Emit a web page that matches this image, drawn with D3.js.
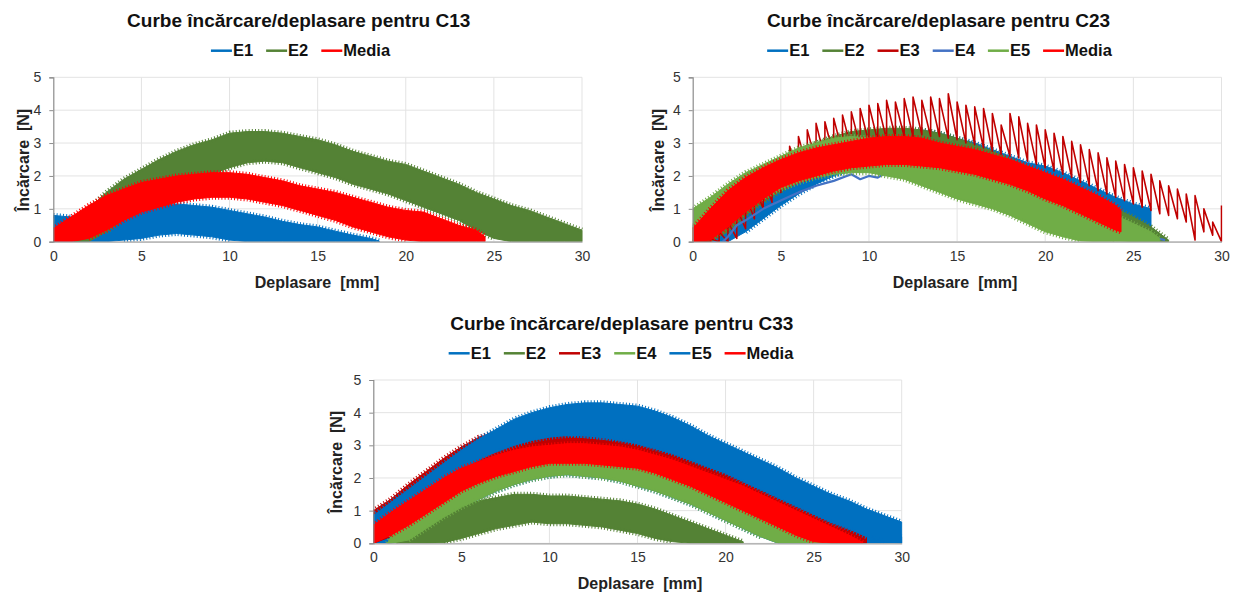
<!DOCTYPE html>
<html><head><meta charset="utf-8">
<script src="https://cdn.jsdelivr.net/npm/d3@7/dist/d3.min.js"></script>
<style>
body{margin:0;background:#fff}
svg{display:block}
text{font-family:"Liberation Sans",Arial,Helvetica,sans-serif}
</style>
</head><body>
<svg id="chart" width="1236" height="594"></svg>
<script>
// ---------------- shared labels / ticks ----------------
const X_TICKS = [0, 5, 10, 15, 20, 25, 30];
const Y_TICKS = [0, 1, 2, 3, 4, 5];
const X_LABEL = "Deplasare\u00a0 [mm]";
const Y_LABEL = "Încărcare\u00a0 [N]";
const TITLES = ["Curbe încărcare/deplasare pentru C13", "Curbe încărcare/deplasare pentru C23", "Curbe încărcare/deplasare pentru C33"];

// ---------------- C13 (band envelopes: upper / lower) ----------------
const c13_e1_x  = [0,1,2,3,4,5,6,7,8,9,10,11,12,13,14,15,16,17,18,18.5];
const c13_e1_hi = [0.8,0.75,0.72,0.8,0.9,1.0,1.1,1.15,1.1,1.05,0.95,0.85,0.75,0.62,0.52,0.45,0.32,0.2,0.1,0.02];
const c13_e1_lo = [0,0,0,0,0.05,0.1,0.2,0.25,0.2,0.15,0.05,0,0,0,0,0,0,0,0,0];

const c13_e2_x  = [1.2,2,3,4,5,6,7,8,9,10,11,12,13,14,15,16,17,18,19,20,21,22,23,24,25,26,27,28,29,30];
const c13_e2_hi = [0.3,1.0,1.5,1.9,2.2,2.5,2.75,2.95,3.1,3.3,3.35,3.35,3.3,3.2,3.1,2.95,2.75,2.6,2.45,2.35,2.15,1.95,1.75,1.5,1.3,1.1,0.95,0.75,0.55,0.35];
const c13_e2_lo = [0,0,0.3,0.7,1.0,1.3,1.6,1.85,2.05,2.25,2.4,2.45,2.4,2.25,2.1,1.95,1.75,1.6,1.45,1.25,1.05,0.85,0.65,0.35,0.1,0,0,0,0,0];

const c13_med_x  = [0,1,2,3,4,5,6,7,8,9,10,11,12,13,14,15,16,17,18,19,20,21,22,23,24,24.5];
const c13_med_hi = [0.4,0.75,1.1,1.4,1.6,1.8,1.9,2.0,2.05,2.1,2.1,2.05,1.95,1.85,1.7,1.6,1.5,1.35,1.2,1.05,0.95,0.9,0.7,0.5,0.35,0.15];
const c13_med_lo = [0,0,0.1,0.35,0.65,0.9,1.05,1.2,1.3,1.35,1.35,1.3,1.2,1.1,0.95,0.8,0.65,0.45,0.3,0.15,0.05,0,0,0,0,0];

// ---------------- C23 ----------------
const c23_e1_x  = [0,1,2,3,4,5,6,7,8,9,10,11,12,13,14,15,16,17,18,19,20,21,22,23,24,25,26];
const c23_e1_hi = [0,0.3,0.7,1.1,1.5,1.9,2.25,2.55,2.8,3.0,3.15,3.25,3.35,3.4,3.3,3.15,3.0,2.8,2.6,2.4,2.3,2.1,1.85,1.6,1.35,1.15,1.0];
const c23_e1_lo = [0,0,0,0.3,0.7,1.1,1.45,1.75,2.0,2.2,2.35,2.45,2.5,2.5,2.45,2.35,2.2,2.0,1.8,1.6,1.4,1.2,1.0,0.8,0.6,0.45,0.3];

const c23_e2_x  = [0,1,2,3,4,5,6,7,8,9,10,11,12,13,14,15,16,17,18,19,20,21,22,23,24,25,26,27];
const c23_e2_hi = [0.5,0.9,1.3,1.7,2.1,2.45,2.75,3.0,3.2,3.35,3.4,3.45,3.45,3.4,3.3,3.15,2.95,2.75,2.5,2.25,2.0,1.75,1.5,1.25,1.0,0.75,0.45,0.05];
const c23_e2_lo = [0,0,0.3,0.8,1.2,1.55,1.85,2.1,2.3,2.45,2.55,2.6,2.55,2.45,2.3,2.1,1.9,1.7,1.45,1.2,0.95,0.7,0.45,0.2,0.05,0,0,0];

// E3: sawtooth read as peak / trough values every 0.5 mm
const c23_e3_x = [0,0.5,1,1.5,2,2.5,3,3.5,4,4.5,5,5.5,6,6.5,7,7.5,8,8.5,9,9.5,10,10.5,11,11.5,12,12.5,13,13.5,14,14.5,15,15.5,16,16.5,17,17.5,18,18.5,19,19.5,20,20.5,21,21.5,22,22.5,23,23.5,24,24.5,25,25.5,26,26.5,27,27.5,28,28.5,29,29.5,30];
const c23_e3_peak = [0,0,0.1,0.3,0.6,1.0,1.4,1.7,2.0,2.3,2.6,2.9,3.2,3.4,3.6,3.65,3.75,3.85,3.95,4.05,4.15,4.2,4.3,4.25,4.35,4.4,4.3,4.4,4.35,4.5,4.25,4.15,4.1,4.05,3.9,3.55,3.9,3.8,3.6,3.55,3.4,3.3,3.2,3.05,2.95,2.8,2.7,2.55,2.45,2.35,2.25,2.15,2.05,1.85,1.7,1.6,1.45,1.4,1.0,0.6,1.1];
const c23_e3_trough = [0,0,0,0,0.1,0.4,0.7,1.0,1.2,1.5,1.8,2.0,2.2,2.4,2.5,2.6,2.7,2.8,2.9,3.0,3.05,3.1,3.15,3.2,3.2,3.25,3.2,3.2,3.15,3.1,3.0,2.95,2.85,2.75,2.65,2.6,2.55,2.45,2.35,2.25,2.15,2.05,1.95,1.8,1.7,1.55,1.45,1.35,1.25,1.15,1.05,0.95,0.85,0.8,0.7,0.6,0.05,0.3,0.2,0,0];

const c23_e4_x = [1.7,2,2.5,3,4,5,6,7,8,9,9.5,10,10.5,11,12,13,14,15,16,17,18,19,20,21,22,23,24,25,26,26.8];
const c23_e4_y = [0,0.15,0.5,0.65,1.0,1.25,1.5,1.7,1.85,2.05,1.9,2.0,1.95,2.1,2.1,2.0,1.9,1.75,1.6,1.4,1.2,1.0,0.85,0.7,0.55,0.4,0.3,0.2,0.15,0.05];

const c23_e5_x  = [0,1,2,3,4,5,6,7,8,9,10,11,12,13,14,15,16,17,18,19,20,21,22,23,24,25,26,26.5];
const c23_e5_hi = [1.0,1.35,1.75,2.1,2.35,2.6,2.85,3.0,3.15,3.2,3.15,3.05,2.95,2.85,2.7,2.55,2.45,2.35,2.2,2.0,1.8,1.55,1.3,1.05,0.8,0.55,0.3,0.1];
const c23_e5_lo = [0,0.3,0.7,1.05,1.35,1.6,1.8,1.95,2.05,2.1,2.1,2.0,1.9,1.7,1.5,1.3,1.15,1.0,0.8,0.55,0.3,0.15,0.02,0,0,0,0,0];

const c23_med_x  = [0,1,2,3,4,5,6,7,8,9,10,11,12,13,14,15,16,17,18,19,20,21,22,23,24,24.3];
const c23_med_hi = [0.4,1.0,1.55,1.95,2.25,2.5,2.7,2.85,2.95,3.05,3.15,3.2,3.2,3.15,3.0,2.9,2.8,2.65,2.5,2.3,2.1,1.9,1.65,1.4,1.1,0.95];
const c23_med_lo = [0,0.05,0.45,0.9,1.3,1.65,1.85,2.0,2.15,2.25,2.3,2.35,2.35,2.3,2.25,2.15,2.05,1.9,1.75,1.55,1.3,1.1,0.85,0.6,0.35,0.3];

// ---------------- C33 ----------------
const c33_e1_x  = [0,1,2,3,4,5,6,7,8,9,10,11,12,13,14,15,16,17,18,19,20,21,22,23,24,25,26,27,28,29,30];
const c33_e1_hi = [0.6,0.95,1.35,1.75,2.1,2.45,2.75,3.0,3.2,3.35,3.45,3.5,3.5,3.45,3.35,3.25,3.1,2.95,2.75,2.55,2.35,2.1,1.85,1.6,1.35,1.1,0.85,0.65,0.45,0.3,0.2];
const c33_e1_lo = [0,0,0.1,0.45,0.8,1.1,1.35,1.6,1.8,1.95,2.05,2.1,2.05,2.0,1.9,1.75,1.6,1.4,1.2,0.95,0.7,0.45,0.2,0,0,0,0,0,0,0,0];

const c33_e2_x  = [1.3,2,3,4,5,6,7,8,9,10,11,12,13,14,15,16,17,18,19,20,21];
const c33_e2_hi = [0,0.45,0.8,1.0,1.15,1.3,1.4,1.5,1.5,1.45,1.45,1.4,1.35,1.3,1.2,1.05,0.85,0.65,0.45,0.25,0.05];
const c33_e2_lo = [0,0,0,0.02,0.15,0.3,0.45,0.55,0.65,0.6,0.6,0.55,0.5,0.4,0.3,0.15,0.05,0,0,0,0];

const c33_e3_x  = [0,1,2,3,4,5,6,7,8,9,10,11,12,13,14,15,16,17,18,19,20,21,22,23,24,25,26,27,28];
const c33_e3_hi = [1.0,1.35,1.8,2.2,2.6,2.95,3.25,3.4,3.45,3.45,3.35,3.25,3.2,3.15,3.1,3.0,2.85,2.7,2.5,2.3,2.1,1.85,1.6,1.35,1.1,0.85,0.6,0.4,0.2];
const c33_e3_lo = [0,0.2,0.6,0.95,1.3,1.65,1.9,2.1,2.25,2.4,2.5,2.5,2.5,2.45,2.4,2.35,2.2,2.0,1.8,1.55,1.3,1.05,0.8,0.55,0.3,0.1,0,0,0];

const c33_e4_x  = [0.8,1,2,3,4,5,6,7,8,9,10,11,12,13,14,15,16,17,18,19,20,21,22,23,24,25,26,26.5];
const c33_e4_hi = [0,0.2,0.7,1.1,1.45,1.75,2.0,2.25,2.45,2.6,2.65,2.7,2.7,2.65,2.55,2.45,2.3,2.15,1.95,1.8,1.65,1.45,1.25,1.0,0.75,0.5,0.2,0];
const c33_e4_lo = [0,0,0.1,0.45,0.8,1.1,1.35,1.6,1.8,1.95,2.05,2.1,2.05,2.0,1.9,1.75,1.6,1.4,1.2,0.95,0.7,0.45,0.2,0,0,0,0,0];

const c33_e5_x  = [0,1,2,3,4,5,6,7,8,9,10,11,12,13,14,15,16,17,18,19,20,21,22,23,24,25,26,27,28,29,30];
const c33_e5_hi = [0.85,1.25,1.65,2.05,2.45,2.85,3.2,3.5,3.8,4.0,4.15,4.25,4.3,4.3,4.25,4.2,4.05,3.85,3.6,3.3,3.05,2.8,2.55,2.3,2.0,1.75,1.5,1.3,1.05,0.85,0.65];
const c33_e5_lo = [0.35,0.75,1.15,1.55,1.9,2.25,2.55,2.8,3.0,3.15,3.25,3.3,3.3,3.25,3.15,3.05,2.9,2.75,2.55,2.35,2.15,1.9,1.65,1.4,1.15,0.9,0.65,0.45,0.2,0.05,0];

const c33_med_x  = [0,1,2,3,4,5,6,7,8,9,10,11,12,13,14,15,16,17,18,19,20,21,22,23,24,25,26,27,27.8];
const c33_med_hi = [0.55,0.95,1.3,1.65,2.0,2.3,2.5,2.7,2.85,2.95,3.0,3.05,3.05,3.0,2.95,2.85,2.7,2.55,2.35,2.15,1.95,1.75,1.5,1.25,1.0,0.75,0.5,0.25,0.02];
const c33_med_lo = [0,0.25,0.55,0.9,1.25,1.6,1.85,2.05,2.2,2.35,2.45,2.45,2.45,2.4,2.35,2.3,2.15,1.95,1.75,1.5,1.25,1.0,0.75,0.5,0.25,0.05,0,0,0];

// ---------------- colours ----------------
const BLUE = "#0070C0", GREEN = "#548235", DKRED = "#C00000", LTBLUE = "#4472C4", LTGREEN = "#70AD47", RED = "#FF0000";

// ---------------- panel definitions ----------------
const panels = [
  { title: TITLES[0], box: {l: 53.3, r: 582, t: 77.3, b: 241.7}, titleXY: [298.7, 20], legendXY: [300.5, 50.7], xLabXY: [317, 282], yLabXY: [23, 160],
    series: [
      {name: "E1", color: BLUE, type: "band", x: c13_e1_x, hi: c13_e1_hi, lo: c13_e1_lo},
      {name: "E2", color: GREEN, type: "band", x: c13_e2_x, hi: c13_e2_hi, lo: c13_e2_lo},
      {name: "Media", color: RED, type: "band", x: c13_med_x, hi: c13_med_hi, lo: c13_med_lo}
    ]},
  { title: TITLES[1], box: {l: 692.7, r: 1221.5, t: 77.3, b: 241.7}, titleXY: [938.5, 20], legendXY: [939.5, 50.7], xLabXY: [955, 282], yLabXY: [658, 160],
    series: [
      {name: "E1", color: BLUE, type: "band", x: c23_e1_x, hi: c23_e1_hi, lo: c23_e1_lo},
      {name: "E2", color: GREEN, type: "band", x: c23_e2_x, hi: c23_e2_hi, lo: c23_e2_lo},
      {name: "E3", color: DKRED, type: "saw", x: c23_e3_x, hi: c23_e3_peak, lo: c23_e3_trough},
      {name: "E4", color: LTBLUE, type: "line", x: c23_e4_x, y: c23_e4_y},
      {name: "E5", color: LTGREEN, type: "band", x: c23_e5_x, hi: c23_e5_hi, lo: c23_e5_lo},
      {name: "Media", color: RED, type: "band", x: c23_med_x, hi: c23_med_hi, lo: c23_med_lo}
    ]},
  { title: TITLES[2], box: {l: 373.3, r: 901.7, t: 380, b: 543.3}, titleXY: [621.8, 323], legendXY: [621, 353.3], xLabXY: [640, 583], yLabXY: [336.7, 462],
    series: [
      {name: "E1", color: BLUE, type: "band", x: c33_e1_x, hi: c33_e1_hi, lo: c33_e1_lo},
      {name: "E2", color: GREEN, type: "band", x: c33_e2_x, hi: c33_e2_hi, lo: c33_e2_lo},
      {name: "E3", color: DKRED, type: "band", x: c33_e3_x, hi: c33_e3_hi, lo: c33_e3_lo},
      {name: "E4", color: LTGREEN, type: "band", x: c33_e4_x, hi: c33_e4_hi, lo: c33_e4_lo},
      {name: "E5", color: BLUE, type: "band", x: c33_e5_x, hi: c33_e5_hi, lo: c33_e5_lo},
      {name: "Media", color: RED, type: "band", x: c33_med_x, hi: c33_med_hi, lo: c33_med_lo}
    ]}
];

const svg = d3.select("#chart");

panels.forEach((p, pi) => {
  const x = d3.scaleLinear().domain([0, 30]).range([p.box.l, p.box.r]);
  const y = d3.scaleLinear().domain([0, 5]).range([p.box.b, p.box.t]);
  const g = svg.append("g");

  // grid
  g.append("g").selectAll("line").data(Y_TICKS).join("line")
    .attr("x1", p.box.l).attr("x2", p.box.r).attr("y1", d => y(d)).attr("y2", d => y(d))
    .attr("stroke", "#e3e3e3").attr("stroke-width", 1);
  g.append("g").selectAll("line").data(X_TICKS.slice(1)).join("line")
    .attr("x1", d => x(d)).attr("x2", d => x(d)).attr("y1", p.box.t).attr("y2", p.box.b)
    .attr("stroke", "#e3e3e3").attr("stroke-width", 1);

  // clip
  const cid = "clip" + pi;
  svg.append("clipPath").attr("id", cid).append("rect")
    .attr("x", p.box.l).attr("y", p.box.t - 4).attr("width", p.box.r - p.box.l + 1).attr("height", p.box.b - p.box.t + 4);
  const plot = g.append("g").attr("clip-path", `url(#${cid})`);

  p.series.forEach(s => {
    if (s.type === "band") {
      const pts = s.x.map((v, i) => ({x: v, hi: s.hi[i], lo: s.lo[i]}));
      plot.append("path").datum(pts)
        .attr("d", d3.area().x(d => x(d.x)).y0(d => y(d.lo)).y1(d => y(d.hi)))
        .attr("fill", s.color).attr("stroke", s.color).attr("stroke-width", 1).attr("stroke-linejoin", "round");
      // fuzzy comb texture along both envelope edges (styling only)
      ["hi", "lo"].forEach(k => {
        plot.append("path").datum(pts.filter(d => !(k === "lo" && d.lo === 0)))
          .attr("d", d3.line().x(d => x(d.x)).y(d => y(d[k])))
          .attr("fill", "none").attr("stroke", s.color).attr("stroke-width", 5)
          .attr("stroke-dasharray", "1 2.2");
      });
    } else if (s.type === "saw") {
      const pts = [];
      s.x.forEach((v, i) => {
        pts.push([v, s.hi[i]]);
        if (i + 1 < s.x.length) pts.push([s.x[i + 1], s.lo[i]]);
      });
      plot.append("path").datum(pts)
        .attr("d", d3.line().x(d => x(d[0])).y(d => y(d[1])))
        .attr("fill", "none").attr("stroke", s.color).attr("stroke-width", 1.6).attr("stroke-linejoin", "round");
    } else {
      const pts = s.x.map((v, i) => [v, s.y[i]]);
      plot.append("path").datum(pts)
        .attr("d", d3.line().x(d => x(d[0])).y(d => y(d[1])))
        .attr("fill", "none").attr("stroke", s.color).attr("stroke-width", 2.2).attr("stroke-linejoin", "round");
    }
  });

  // axes
  const ax = g.append("g").attr("transform", `translate(0,${p.box.b})`)
    .call(d3.axisBottom(x).tickValues(X_TICKS).tickSize(0).tickPadding(9).tickFormat(d3.format("d")));
  ax.select(".domain").attr("stroke", "#a6a6a6").attr("stroke-width", 1.2);
  ax.selectAll("text").attr("font-size", 14).attr("fill", "#333").attr("font-family", "Liberation Sans, Arial, sans-serif");

  const ay = g.append("g").attr("transform", `translate(${p.box.l},0)`)
    .call(d3.axisLeft(y).tickValues(Y_TICKS).tickSize(4).tickPadding(8).tickFormat(d3.format("d")));
  ay.select(".domain").attr("stroke", "#8c8c8c").attr("stroke-width", 1.2);
  ay.selectAll(".tick line").attr("stroke", "#8c8c8c");
  ay.selectAll("text").attr("font-size", 14).attr("fill", "#333").attr("font-family", "Liberation Sans, Arial, sans-serif");

  // titles
  svg.append("text").attr("x", p.titleXY[0]).attr("y", p.titleXY[1]).attr("dy", "0.35em")
    .attr("text-anchor", "middle").attr("font-size", 19).attr("font-weight", "bold").attr("fill", "#111").text(p.title);
  svg.append("text").attr("x", p.xLabXY[0]).attr("y", p.xLabXY[1]).attr("dy", "0.35em")
    .attr("text-anchor", "middle").attr("font-size", 16).attr("font-weight", "bold").attr("fill", "#222").text(X_LABEL);
  svg.append("text").attr("transform", `translate(${p.yLabXY[0]},${p.yLabXY[1]}) rotate(-90)`).attr("dy", "0.35em")
    .attr("text-anchor", "middle").attr("font-size", 16).attr("font-weight", "bold").attr("fill", "#222").text(Y_LABEL);

  // legend
  const lg = svg.append("g");
  const items = [];
  p.series.forEach(s => {
    const it = lg.append("g");
    it.append("line").attr("x1", 0).attr("x2", 21).attr("y1", 0).attr("y2", 0)
      .attr("stroke", s.color).attr("stroke-width", 2.5);
    const t = it.append("text").attr("x", 22).attr("y", 0).attr("dy", "0.35em")
      .attr("font-size", 16.5).attr("font-weight", "bold").attr("fill", "#111").text(s.name);
    const w = 22 + t.node().getComputedTextLength();
    items.push({it, w});
  });
  const gap = 13;
  const total = d3.sum(items, d => d.w) + gap * (items.length - 1);
  let pos = p.legendXY[0] - total / 2;
  items.forEach(d => { d.it.attr("transform", `translate(${pos},${p.legendXY[1]})`); pos += d.w + gap; });
});
</script>
</body></html>
